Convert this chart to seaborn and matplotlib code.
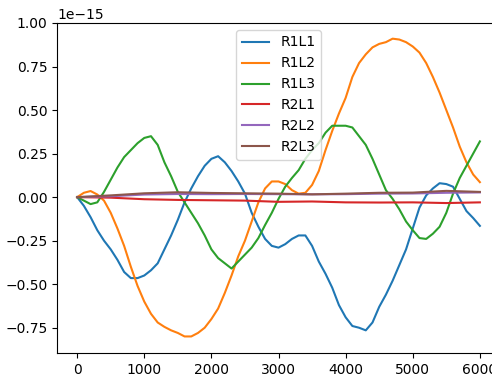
import numpy as np
import pandas as pd
import seaborn as sns
import matplotlib
matplotlib.use("Agg")
import matplotlib.pyplot as plt

# sample index (every 100 steps) for the three large series
steps = list(range(0, 6001, 100))

r1l1 = [0, -0.05, -0.115, -0.19, -0.25, -0.30, -0.36, -0.43, -0.465, -0.465,
        -0.45, -0.42, -0.38, -0.30, -0.22, -0.13, -0.03, 0.05, 0.12, 0.18,
        0.22, 0.235, 0.20, 0.15, 0.09, 0.02, -0.09, -0.17, -0.24, -0.28,
        -0.29, -0.27, -0.24, -0.22, -0.22, -0.28, -0.37, -0.44, -0.52, -0.62,
        -0.69, -0.74, -0.75, -0.765, -0.72, -0.63, -0.56, -0.48, -0.39, -0.30,
        -0.18, -0.06, 0.01, 0.05, 0.08, 0.075, 0.06, -0.01, -0.08, -0.12,
        -0.165]

r1l2 = [0, 0.025, 0.035, 0.015, -0.02, -0.09, -0.18, -0.28, -0.40, -0.51,
        -0.60, -0.67, -0.72, -0.745, -0.765, -0.78, -0.80, -0.80, -0.78, -0.75,
        -0.70, -0.64, -0.55, -0.45, -0.34, -0.25, -0.14, -0.03, 0.05, 0.09,
        0.09, 0.075, 0.04, 0.02, 0.025, 0.07, 0.15, 0.27, 0.38, 0.48,
        0.57, 0.69, 0.77, 0.82, 0.86, 0.88, 0.89, 0.91, 0.905, 0.89,
        0.865, 0.83, 0.77, 0.69, 0.60, 0.50, 0.40, 0.29, 0.20, 0.13,
        0.086]

r1l3 = [0, -0.02, -0.04, -0.03, 0.03, 0.10, 0.17, 0.23, 0.27, 0.31,
        0.34, 0.35, 0.30, 0.20, 0.12, 0.03, -0.03, -0.09, -0.15, -0.22,
        -0.30, -0.35, -0.38, -0.41, -0.37, -0.33, -0.29, -0.235, -0.16, -0.09,
        -0.01, 0.06, 0.11, 0.155, 0.22, 0.27, 0.31, 0.37, 0.41, 0.41,
        0.41, 0.40, 0.35, 0.30, 0.22, 0.13, 0.04, -0.01, -0.07, -0.14,
        -0.19, -0.235, -0.24, -0.21, -0.17, -0.09, 0.02, 0.11, 0.18, 0.25,
        0.32]

# the three small series, every 500 steps
steps_small = list(range(0, 6001, 500))
r2l1 = [0, -0.003, -0.012, -0.016, -0.018, -0.02, -0.027, -0.025, -0.03,
        -0.031, -0.03, -0.034, -0.03]
r2l2 = [0, 0.005, 0.015, 0.018, 0.017, 0.018, 0.017, 0.016, 0.017,
        0.02, 0.021, 0.025, 0.027]
r2l3 = [0, 0.01, 0.022, 0.028, 0.024, 0.022, 0.02, 0.016, 0.02,
        0.025, 0.026, 0.036, 0.03]

labels = ["R1L1", "R1L2", "R1L3", "R2L1", "R2L2", "R2L3"]


def build_frame():
    rows = []
    for name, vals in zip(labels[:3], [r1l1, r1l2, r1l3]):
        for s, v in zip(steps, vals):
            rows.append((s, v * 1e-15, name))
    for name, vals in zip(labels[3:], [r2l1, r2l2, r2l3]):
        for s, v in zip(steps_small, vals):
            rows.append((s, v * 1e-15, name))
    return pd.DataFrame(rows, columns=["step", "value", "series"])


def main():
    data = build_frame()

    fig = plt.figure(figsize=(4.92, 3.77), dpi=100)
    ax = fig.add_axes([0.1159, 0.0637, 0.9004, 0.8753])

    sns.lineplot(data=data, x="step", y="value", hue="series",
                 hue_order=labels, palette="tab10", linewidth=1.5, ax=ax)

    ax.set_xlabel("")
    ax.set_ylabel("")
    ax.set_ylim(-0.895e-15, 1.0e-15)
    ax.set_xticks([0, 1000, 2000, 3000, 4000, 5000, 6000])
    ax.legend(loc="upper center")

    fig.savefig("out.png", dpi=100)


if __name__ == "__main__":
    main()
